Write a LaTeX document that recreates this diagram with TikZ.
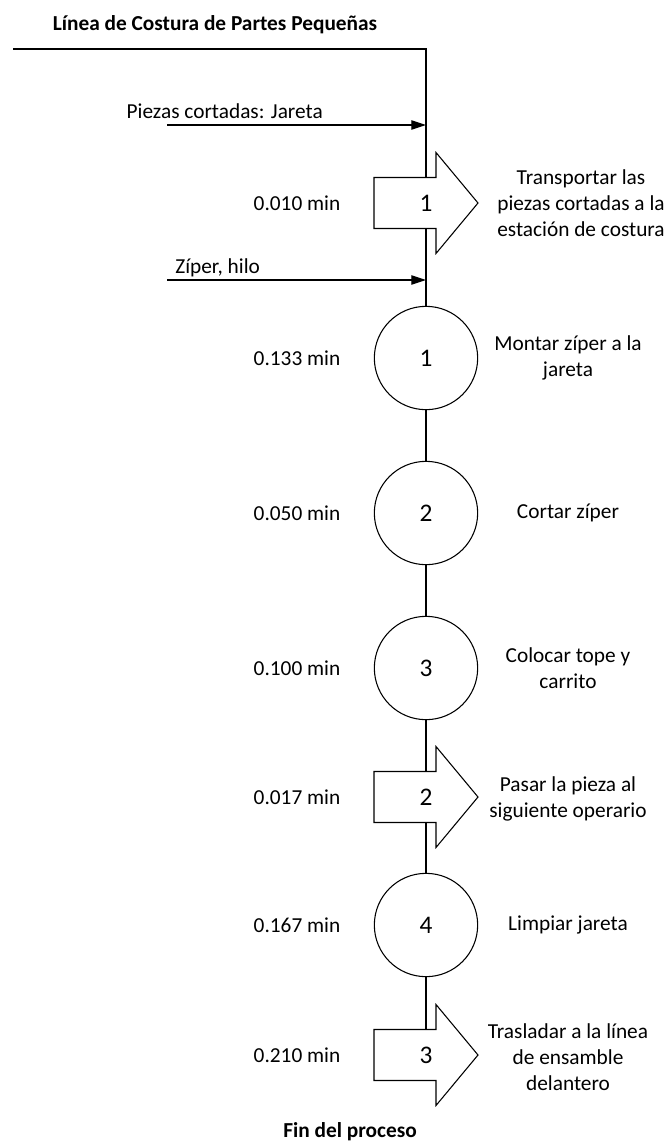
\documentclass[tikz,border=0pt]{standalone}
\usepackage{fontspec}
\setmainfont{Carlito}
\usetikzlibrary{arrows.meta,calc}

% Transport symbol: block arrow pointing right, centred on a coordinate
\newcommand{\drawtransport}[1]{%
  \draw[transport] ($(#1)+(-52,-25.5)$) -- ($(#1)+(10,-25.5)$) -- ($(#1)+(10,-50.5)$)
    -- ($(#1)+(52,0)$) -- ($(#1)+(10,50.5)$) -- ($(#1)+(10,25.5)$)
    -- ($(#1)+(-52,25.5)$) -- cycle;}

\begin{document}
\begin{tikzpicture}[x=0.75pt,y=-0.75pt,
  every node/.style={font=\fontsize{16}{19.5}\selectfont},
  flow/.style={line width=0.8pt, draw=black},
  feed/.style={line width=0.8pt, -{Triangle[length=11pt,width=7pt]}},
  opcircle/.style={circle, draw, line width=0.8pt, fill=white, minimum size=77.5pt, inner sep=0pt,
    font=\fontsize{19}{22}\selectfont},
  numlbl/.style={font=\fontsize{19}{22}\selectfont},
  transport/.style={draw, line width=0.8pt, fill=white, line join=miter},
  desc/.style={align=center},
  heading/.style={font=\fontsize{16}{19.5}\selectfont\bfseries, anchor=base}
]
\useasboundingbox (0,0) rectangle (670,1143);

% headings
\node[heading] (title) at (215,30) {Línea de Costura de Partes Pequeñas};
\node[heading] (fin) at (350,1137) {Fin del proceso};

% main line points
\coordinate (start)  at (13,49);
\coordinate (corner) at (426,49);

% transport centres and body edges
\coordinate (t1) at (426,203);
\coordinate (t1top) at (426,177.5);
\coordinate (t1bot) at (426,228.5);
\coordinate (t2) at (426,797);
\coordinate (t2top) at (426,771.5);
\coordinate (t2bot) at (426,822.5);
\coordinate (t3) at (426,1055);
\coordinate (t3top) at (426,1029.5);

% operations
\node[opcircle] (c1) at (426,358) {1};
\node[opcircle] (c2) at (426,513) {2};
\node[opcircle] (c3) at (426,668) {3};
\node[opcircle] (c4) at (426,925) {4};

% flow line
\draw[flow] (start) -- (corner) -- (t1top);
\draw[flow] (t1bot) -- (c1);
\draw[flow] (c1) -- (c2);
\draw[flow] (c2) -- (c3);
\draw[flow] (c3) -- (t2top);
\draw[flow] (t2bot) -- (c4);
\draw[flow] (c4) -- (t3top);

% transports
\drawtransport{t1}
\node[numlbl] (t1n) at (t1) {1};
\drawtransport{t2}
\node[numlbl] (t2n) at (t2) {2};
\drawtransport{t3}
\node[numlbl] (t3n) at (t3) {3};

% material inputs
\coordinate (in1) at (167,125);
\coordinate (in1end) at (426,125);
\draw[feed] (in1) -- (in1end);
\node[anchor=base east, inner xsep=0pt] (lbl1) at (323,118) {Piezas cortadas: Jareta};
\coordinate (in2) at (167,280);
\coordinate (in2end) at (426,280);
\draw[feed] (in2) -- (in2end);
\node[anchor=base west, inner xsep=0pt] (lbl2) at (175,273) {Zíper, hilo};

% times
\node (m1) at (297,203) {0.010 min};
\node (m2) at (297,358) {0.133 min};
\node (m3) at (297,513) {0.050 min};
\node (m4) at (297,668) {0.100 min};
\node (m5) at (297,797) {0.017 min};
\node (m6) at (297,925) {0.167 min};
\node (m7) at (297,1055) {0.210 min};

% descriptions
\node[desc] (d1) at (581,203) {Transportar las\\piezas cortadas a la\\estación de costura};
\node[desc] (d2) at (568,358) {Montar zíper a la\\jareta};
\node[desc] (d3) at (568,513) {Cortar zíper};
\node[desc] (d4) at (568,668) {Colocar tope y\\carrito};
\node[desc] (d5) at (568,799) {Pasar la pieza al\\siguiente operario};
\node[desc] (d6) at (568,925) {Limpiar jareta};
\node[desc] (d7) at (568,1057) {Trasladar a la línea\\de ensamble\\delantero};
\end{tikzpicture}
\end{document}
